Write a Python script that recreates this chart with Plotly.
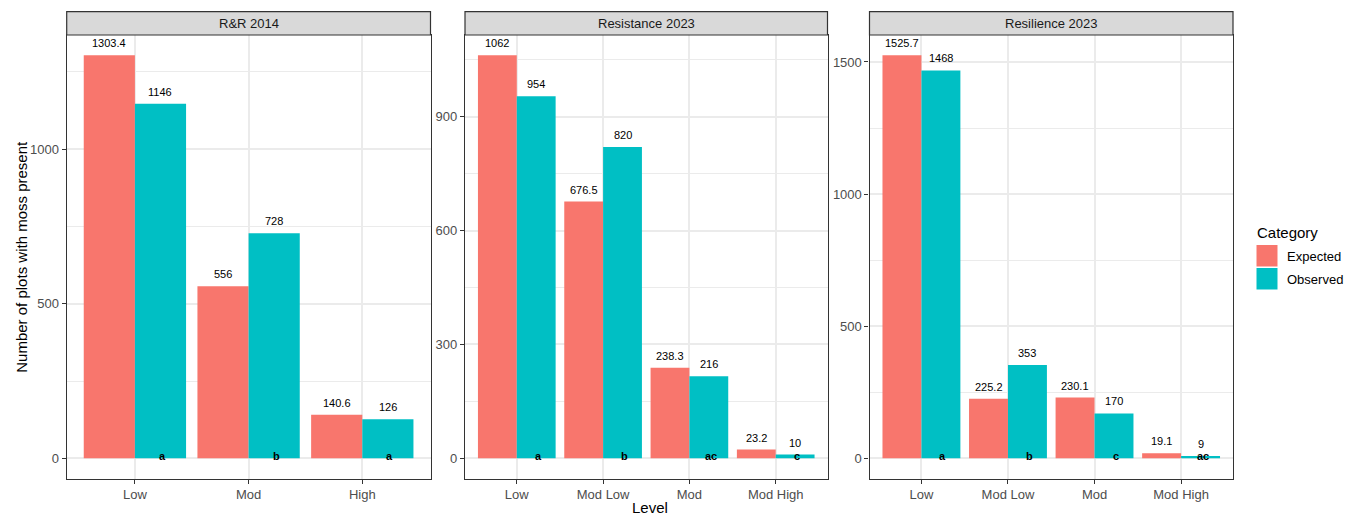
import plotly.graph_objects as go

# ---- data -------------------------------------------------------------
panel_titles = ["R&R 2014", "Resistance 2023", "Resilience 2023"]

levels_rr2014 = ["Low", "Mod", "High"]
expected_rr2014 = [1303.4, 556, 140.6]
observed_rr2014 = [1146, 728, 126]
letters_rr2014 = ["a", "b", "a"]

levels_res2023 = ["Low", "Mod Low", "Mod", "Mod High"]
expected_resist2023 = [1062, 676.5, 238.3, 23.2]
observed_resist2023 = [954, 820, 216, 10]
letters_resist2023 = ["a", "b", "ac", "c"]

expected_resil2023 = [1525.7, 225.2, 230.1, 19.1]
observed_resil2023 = [1468, 353, 170, 9]
letters_resil2023 = ["a", "b", "c", "ac"]

ytick_rr2014 = [0, 500, 1000]
ytick_resist2023 = [0, 300, 600, 900]
ytick_resil2023 = [0, 500, 1000, 1500]

series_names = ["Expected", "Observed"]
series_colors = ["#F8766D", "#00BFC4"]

panels = [
    (levels_rr2014, expected_rr2014, observed_rr2014, letters_rr2014, ytick_rr2014),
    (levels_res2023, expected_resist2023, observed_resist2023, letters_resist2023, ytick_resist2023),
    (levels_res2023, expected_resil2023, observed_resil2023, letters_resil2023, ytick_resil2023),
]

# ---- page geometry (pixels) -------------------------------------------
W, H = 1355, 515
panel_x = [(66.7, 430.5), (465.0, 827.5), (869.5, 1233.0)]
panel_top, panel_bottom = 35.0, 478.5
strip_top = 11.7

FONT = "Liberation Sans"
TICK_COLOR = "#4D4D4D"
BORDER = "#333333"
GRID = "#EBEBEB"
DODGE = 0.225  # half of a bar slot within a 0.9-wide dodge group


def px_x(p):
    return p / W


def px_y(p):
    return 1 - p / H


def fmt(v):
    return f"{v:g}"


fig = go.Figure()
annotations = []
shapes = []

for k, (levels, expv, obsv, letters, yticks) in enumerate(panels):
    sfx = "" if k == 0 else str(k + 1)
    xa, ya = "x" + sfx, "y" + sfx
    xpos = list(range(1, len(levels) + 1))
    ymax = max(expv + obsv)

    for name, color, vals in zip(series_names, series_colors, [expv, obsv]):
        fig.add_trace(go.Bar(
            x=xpos, y=vals, name=name, marker=dict(color=color, line=dict(width=0)),
            xaxis=xa, yaxis=ya, showlegend=False, legendgroup=name,
        ))

    # value labels above each bar
    for sign, vals in [(-1, expv), (1, obsv)]:
        for xi, v in zip(xpos, vals):
            annotations.append(dict(
                x=xi + sign * DODGE, y=v, xref=xa, yref=ya, text=fmt(v),
                showarrow=False, yanchor="middle", yshift=12,
                font=dict(family=FONT, size=11, color="black"),
            ))
    # significance letters at the base of the observed bars
    for xi, lt in zip(xpos, letters):
        annotations.append(dict(
            x=xi + DODGE, y=0, xref=xa, yref=ya, text="<b>" + lt + "</b>",
            showarrow=False, yanchor="middle", xshift=2, yshift=2,
            font=dict(family=FONT, size=11, color="black"),
        ))

    step = yticks[1] - yticks[0]
    minor_vals = [t + step / 2 for t in yticks]
    x0, x1 = panel_x[k]
    fig.layout["xaxis" + sfx] = dict(
        domain=[px_x(x0), px_x(x1)], anchor=ya,
        range=[0.4, len(levels) + 0.6], tickvals=xpos, ticktext=levels,
        showgrid=True, gridcolor=GRID, gridwidth=1.5, zeroline=False,
        ticks="outside", ticklen=4, tickcolor=BORDER, tickwidth=1,
        showline=True, mirror=True, linecolor=BORDER, linewidth=1.2,
        tickfont=dict(family=FONT, size=13, color=TICK_COLOR),
    )
    fig.layout["yaxis" + sfx] = dict(
        domain=[px_y(panel_bottom), px_y(panel_top)], anchor=xa,
        range=[-0.05 * ymax, 1.05 * ymax], tickvals=yticks,
        showgrid=True, gridcolor=GRID, gridwidth=1.5, zeroline=False,
        minor=dict(tickvals=minor_vals, showgrid=True, gridcolor=GRID, gridwidth=0.8, ticks=""),
        ticks="outside", ticklen=4, tickcolor=BORDER, tickwidth=1,
        showline=True, mirror=True, linecolor=BORDER, linewidth=1.2,
        tickfont=dict(family=FONT, size=13, color=TICK_COLOR),
    )

    # facet strip
    shapes.append(dict(
        type="rect", xref="paper", yref="paper",
        x0=px_x(x0), x1=px_x(x1), y0=px_y(panel_top), y1=px_y(strip_top),
        fillcolor="#D9D9D9", line=dict(color=BORDER, width=1.2), layer="above",
    ))
    annotations.append(dict(
        x=px_x((x0 + x1) / 2), y=px_y((strip_top + panel_top) / 2), xref="paper", yref="paper",
        text=panel_titles[k], showarrow=False, xanchor="center", yanchor="middle",
        font=dict(family=FONT, size=13, color="#1A1A1A"),
    ))

# axis titles
annotations.append(dict(
    x=px_x(22), y=px_y((panel_top + panel_bottom) / 2), xref="paper", yref="paper",
    text="Number of plots with moss present", textangle=-90, showarrow=False,
    xanchor="center", yanchor="middle", font=dict(family=FONT, size=15, color="black"),
))
annotations.append(dict(
    x=px_x((panel_x[0][0] + panel_x[2][1]) / 2), y=px_y(507), xref="paper", yref="paper",
    text="Level", showarrow=False, xanchor="center", yanchor="middle",
    font=dict(family=FONT, size=15, color="black"),
))

# legend
annotations.append(dict(
    x=px_x(1255), y=px_y(232), xref="paper", yref="paper", text="Category",
    showarrow=False, xanchor="left", yanchor="middle",
    font=dict(family=FONT, size=15, color="black"),
))
key_tops = [245.0, 268.0]
for name, color, top in zip(series_names, series_colors, key_tops):
    shapes.append(dict(
        type="rect", xref="paper", yref="paper",
        x0=px_x(1256.5), x1=px_x(1277.5), y0=px_y(top + 21.5), y1=px_y(top),
        fillcolor=color, line=dict(width=0),
    ))
    annotations.append(dict(
        x=px_x(1285), y=px_y(top + 11), xref="paper", yref="paper", text=name,
        showarrow=False, xanchor="left", yanchor="middle",
        font=dict(family=FONT, size=13, color="black"),
    ))

fig.update_layout(
    width=W, height=H, margin=dict(l=0, r=0, t=0, b=0),
    paper_bgcolor="white", plot_bgcolor="white",
    barmode="group", bargap=0.1, bargroupgap=0,
    showlegend=False, annotations=annotations, shapes=shapes,
    font=dict(family=FONT),
)

fig.write_html("out.html")
